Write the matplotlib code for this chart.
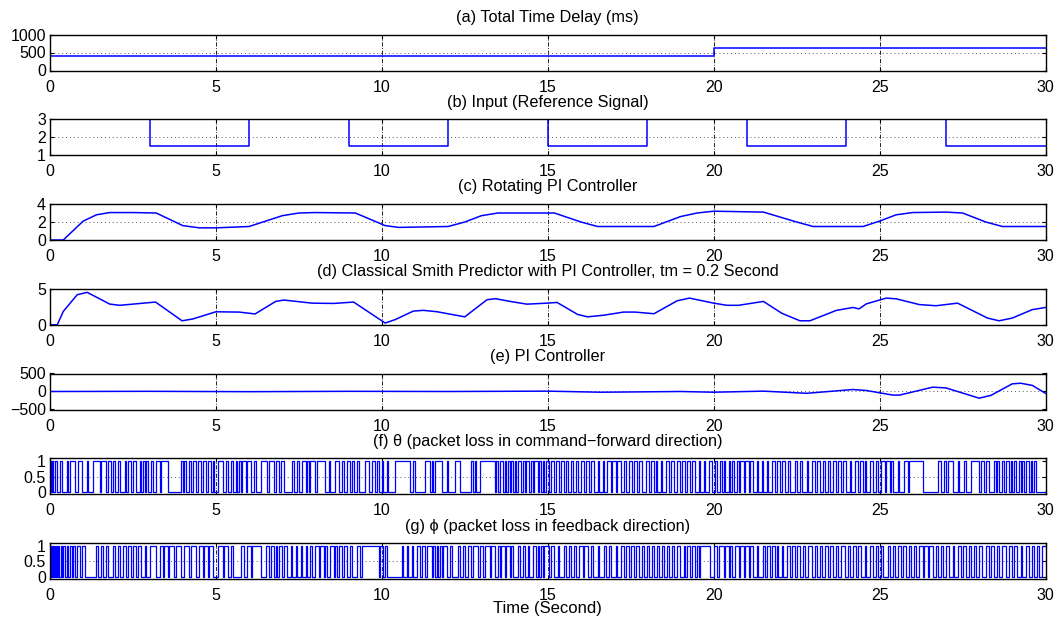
import numpy as np
import matplotlib
matplotlib.use('Agg')
import matplotlib.pyplot as plt

plt.rcParams['font.family'] = ['Liberation Sans', 'DejaVu Sans']
plt.rcParams['font.size'] = 11

# (a) total time delay (ms)
delay_t = [0, 20, 20, 30]
delay_v = [395, 395, 615, 615]

# (b) reference input
ref_t = [0, 3, 3, 6, 6, 9, 9, 12, 12, 15, 15, 18, 18, 21, 21, 24, 24, 27, 27, 30]
ref_v = [3, 3, 1.5, 1.5, 3, 3, 1.5, 1.5, 3, 3, 1.5, 1.5, 3, 3, 1.5, 1.5, 3, 3, 1.5, 1.5]

# (c) rotating PI controller
rot_t = [0, 0.4, 1.0, 1.4, 1.8, 2.5, 3.2, 4.0, 4.5, 5.0, 6.0, 6.5, 7.0, 7.5, 8.0, 9.2,
         10.1, 10.5, 12.0, 12.5, 13.0, 13.5, 15.2, 16.0, 16.5, 18.2, 19.0, 19.5, 20.0,
         21.5, 22.5, 23.0, 24.5, 25.0, 25.5, 26.0, 27.0, 27.5, 28.2, 28.7, 30.0]
rot_v = [0, 0, 2.1, 2.8, 3.05, 3.05, 3.0, 1.6, 1.35, 1.35, 1.5, 2.1, 2.7, 3.0, 3.05, 3.0,
         1.6, 1.4, 1.5, 2.0, 2.7, 3.0, 3.0, 2.0, 1.5, 1.5, 2.6, 3.0, 3.2,
         3.1, 2.0, 1.5, 1.5, 2.1, 2.8, 3.05, 3.1, 3.0, 2.0, 1.5, 1.5]

# (d) classical Smith predictor with PI
smith_t = [0, 0.22, 0.4, 0.82, 1.12, 1.8, 2.1, 3.18, 3.98, 4.3, 5.0, 5.7, 6.18, 6.8, 7.05,
           7.9, 8.55, 9.15, 10.1, 10.4, 10.95, 11.25, 11.66, 12.5, 13.17, 13.42, 13.87,
           14.37, 14.98, 15.28, 15.9, 16.2, 16.7, 17.28, 17.63, 18.2, 18.9, 19.27, 20.0,
           20.4, 20.75, 21.5, 22.05, 22.6, 22.9, 23.7, 24.2, 24.38, 24.6, 25.2, 25.5, 26.2,
           26.7, 27.35, 27.7, 28.25, 28.6, 29.0, 29.6, 30.0]
smith_v = [0, 0, 1.85, 4.17, 4.5, 2.87, 2.7, 3.15, 0.55, 0.8, 1.8, 1.76, 1.5, 3.24, 3.43,
           3.0, 2.96, 3.15, 0.24, 0.71, 1.9, 2.0, 1.81, 1.1, 3.48, 3.62, 3.24,
           2.86, 3.0, 3.1, 1.43, 1.1, 1.33, 1.76, 1.76, 1.53, 3.33, 3.7, 3.0,
           2.7, 2.7, 3.24, 1.6, 0.55, 0.55, 2.0, 2.4, 2.2, 2.9, 3.7, 3.6, 2.8,
           2.64, 3.0, 2.2, 0.93, 0.55, 0.93, 2.1, 2.4]

# (e) PI controller
pi_t = [0, 3, 6, 9, 12, 15, 16.6, 19.0, 20.0, 21.5, 22.8, 24.2, 24.6, 25.4, 25.6, 26.6,
        27.0, 28.0, 28.35, 29.0, 29.25, 29.6, 30.0]
pi_v = [0, 5, -5, 5, 0, 10, -20, 0, -20, 10, -50, 55, 28, -100, -100, 120,
        100, -185, -110, 213, 230, 170, -50]

# (f) theta, toggle times (signal starts at 1)
theta_sw = [0.03, 0.06, 0.1, 0.14, 0.2, 0.3, 0.35, 0.5, 0.55, 0.6, 0.75, 0.85, 0.95,
            1.1, 1.15, 1.3, 1.5, 1.55, 1.7, 1.75, 1.85, 1.9, 1.95,
            2.05, 2.1, 2.25, 2.3, 2.35, 2.45, 2.5, 2.6, 2.7, 2.75, 2.8, 2.85, 2.9, 2.95,
            3.05, 3.1, 3.2, 3.3, 3.35, 3.55, 3.95, 4.0,
            4.05, 4.1, 4.2, 4.25, 4.3, 4.4, 4.45, 4.55, 4.6, 4.7, 4.75, 4.85, 4.9, 4.95,
            5.05, 5.2, 5.3, 5.35, 5.45, 5.5, 5.6, 5.65, 5.7, 5.75, 5.8, 5.9, 5.95,
            6.05, 6.15, 6.2, 6.35, 6.55, 6.6, 6.75, 6.8, 6.9, 6.95,
            7.05, 7.3, 7.35, 7.45, 7.5, 7.6, 7.7, 7.75, 7.8, 7.85, 8.0,
            8.05, 8.3, 8.4, 8.45, 8.6, 8.7, 8.8, 8.85, 8.95,
            9.05, 9.1, 9.15, 9.25, 9.3, 9.5, 9.6, 9.7, 9.8, 9.85, 9.9,
            10.0, 10.05, 10.15, 10.2, 10.4, 10.85, 10.95, 11.0,
            11.3, 11.45, 11.5, 11.55, 11.6, 11.8, 11.95,
            12.0, 12.2, 12.35, 12.7, 12.75, 12.8, 12.85, 12.95,
            13.4, 13.45, 13.5, 13.55, 13.65, 13.7, 13.75, 13.8, 13.85, 13.9, 13.95,
            14.0, 14.05, 14.1, 14.2, 14.25, 14.3, 14.35, 14.45, 14.5, 14.55, 14.6, 14.7,
            14.75, 14.8, 14.85, 14.9, 14.95,
            15.05, 15.1, 15.2, 15.25, 15.35, 15.4, 15.5, 15.55, 15.6, 15.7, 15.75, 15.85, 15.9,
            16.0, 16.1, 16.15, 16.25, 16.3, 16.4, 16.5, 16.55, 16.65, 16.7, 16.8, 16.9, 16.95,
            17.05, 17.1, 17.2, 17.3, 17.35, 17.45, 17.55, 17.6, 17.7, 17.75, 17.85, 17.95,
            18.05, 18.1, 18.2, 18.25, 18.3, 18.4, 18.45, 18.55, 18.65, 18.7, 18.8, 18.9,
            19.0, 19.05, 19.15, 19.2, 19.3, 19.35, 19.45, 19.55, 19.6, 19.7, 19.75, 19.85, 19.95,
            20.05, 20.1, 20.2, 20.25, 20.3, 20.35, 20.45, 20.5, 20.55, 20.6, 20.7, 20.75,
            20.8, 20.9, 20.95,
            21.05, 21.1, 21.2, 21.3, 21.35, 21.45, 21.5, 21.6, 21.65, 21.75, 21.85, 21.9,
            22.0, 22.05, 22.15, 22.25, 22.3, 22.45, 22.5, 22.6, 22.65, 22.8, 22.85, 22.95,
            23.05, 23.1, 23.2, 23.3, 23.35, 23.45, 23.5, 23.6, 23.7, 23.75, 23.85, 23.9,
            24.0, 24.1, 24.15, 24.25, 24.35, 24.4, 24.5, 24.55, 24.6, 24.7, 24.8, 24.9, 24.95,
            25.05, 25.15, 25.2, 25.3, 25.35, 25.4, 25.55, 25.6, 25.75, 25.85, 25.9,
            26.3, 26.75, 26.85, 26.95, 27.0, 27.05, 27.2, 27.35, 27.4, 27.55, 27.6,
            27.75, 28.0, 28.05, 28.15, 28.2, 28.3, 28.45, 28.5, 28.55, 28.6, 28.7, 28.75, 28.8,
            28.9, 28.95, 29.0, 29.05, 29.1, 29.2, 29.25, 29.3, 29.35, 29.4, 29.5, 29.55,
            29.6, 29.65, 29.7]

# (g) phi, toggle times (signal starts at 1)
phi_sw = [0.02, 0.05, 0.08, 0.12, 0.15, 0.18, 0.22, 0.25, 0.28, 0.32, 0.36, 0.4, 0.45,
          0.5, 0.55, 0.6, 0.65, 0.7, 0.75, 0.8, 0.9, 0.95,
          1.05, 1.4, 1.45, 1.55, 1.6, 1.7, 1.75, 1.9, 1.95,
          2.05, 2.1, 2.2, 2.3, 2.35, 2.45, 2.5, 2.6, 2.65, 2.75, 2.85, 2.9,
          3.0, 3.2, 3.3, 3.4, 3.45, 3.55, 3.6, 3.75, 3.8, 3.95,
          4.05, 4.2, 4.25, 4.4, 4.5, 4.6, 4.65, 4.75, 4.8, 4.9,
          5.05, 5.2, 5.25, 5.35, 5.45, 5.5, 5.75, 5.85, 5.95,
          6.05, 6.1, 6.35, 6.5, 6.6, 6.65, 6.75, 6.8, 6.85, 6.9, 7.0,
          7.05, 7.15, 7.25, 7.3, 7.4, 7.45, 7.55, 7.6, 7.7, 7.75, 7.85, 7.9,
          8.0, 8.1, 8.15, 8.25, 8.3, 8.35, 8.45, 8.55, 8.6, 8.65, 8.7, 8.8, 8.85, 8.95,
          9.05, 9.1, 9.25, 9.35, 9.4, 9.9, 9.95,
          10.05, 10.1, 10.15, 10.6, 10.65, 10.75, 10.8, 10.9, 10.95,
          11.05, 11.15, 11.2, 11.3, 11.35, 11.5, 11.55, 11.6, 11.65, 11.7, 11.75, 11.8,
          11.85, 11.95,
          12.05, 12.1, 12.3, 12.35, 12.45, 12.5, 12.6, 12.7, 12.75, 12.9, 12.95,
          13.05, 13.1, 13.25, 13.3, 13.4, 13.5, 13.55, 13.6, 13.7, 13.75, 13.85, 13.9, 13.95,
          14.1, 14.15, 14.25, 14.3, 14.4, 14.45, 14.55, 14.65, 14.7, 14.75, 14.8, 14.85, 14.9,
          15.05, 15.1, 15.2, 15.3, 15.35, 15.5, 15.55, 15.65, 15.7, 15.8, 15.85, 15.95,
          16.05, 16.1, 16.2, 16.3, 16.35, 16.5, 16.55, 16.7, 16.75, 16.85, 16.9,
          17.05, 17.1, 17.2, 17.3, 17.35, 17.45, 17.5, 17.6, 17.65, 17.75, 17.85, 17.9,
          18.0, 18.05, 18.15, 18.2, 18.3, 18.35, 18.45, 18.5, 18.6, 18.65, 18.75, 18.8, 18.9,
          19.0, 19.1, 19.15, 19.2, 19.3, 19.35, 19.45, 19.5, 19.55, 19.6, 19.9, 20.0,
          20.1, 20.15, 20.3, 20.35, 20.45, 20.5, 20.55, 20.65, 20.75, 20.8, 20.9, 20.95,
          21.05, 21.1, 21.2, 21.3, 21.35, 21.5, 21.55, 21.6, 21.7, 21.75, 21.85, 21.9, 21.95,
          22.05, 22.1, 22.2, 22.3, 22.35, 22.45, 22.5, 22.6, 22.7, 22.75, 22.85, 22.95,
          23.05, 23.1, 23.2, 23.25, 23.35, 23.45, 23.5, 23.6, 23.7, 23.75, 23.85, 23.95,
          24.05, 24.1, 24.2, 24.3, 24.35, 24.45, 24.55, 24.6, 24.7, 24.8, 24.9, 24.95,
          25.05, 25.1, 25.25, 25.3, 25.4, 25.45, 25.55, 25.65, 25.7, 25.8, 25.9, 25.95,
          26.05, 26.1, 26.2, 26.3, 26.35, 26.45, 26.5, 26.6, 26.7, 26.75, 26.85, 26.9,
          27.0, 27.1, 27.2, 27.25, 27.35, 27.45, 27.5, 27.6, 27.7, 27.75, 27.85, 27.9,
          28.0, 28.1, 28.2, 28.3, 28.35, 28.45, 28.55, 28.6, 28.7, 28.8, 28.9,
          29.0, 29.05, 29.15, 29.25, 29.3, 29.4, 29.5, 29.6, 29.65, 29.75, 29.8, 29.9]

titles = ['(a) Total Time Delay (ms)',
          '(b) Input (Reference Signal)',
          '(c) Rotating PI Controller',
          '(d) Classical Smith Predictor with PI Controller, tm = 0.2 Second',
          '(e) PI Controller',
          '(f) θ (packet loss in command\u2212forward direction)',
          '(g) ϕ (packet loss in feedback direction)']
ylims = [(0, 1000), (1, 3), (0, 4), (0, 5), (-500, 500), (-0.06, 1.09), (-0.06, 1.09)]
yticks = [[0, 500, 1000], [1, 2, 3], [0, 2, 4], [0, 5], [-500, 0, 500],
          [0, 0.5, 1], [0, 0.5, 1]]
ytick_labels = [None, None, None, None, None, ['0', '0.5', '1'], ['0', '0.5', '1']]


def binary_wave(switches):
    t = [0.0]
    v = [1]
    level = 1
    for s in switches:
        t += [s, s]
        v += [level, 1 - level]
        level = 1 - level
    t.append(30.0)
    v.append(level)
    return t, v


series = [(delay_t, delay_v), (ref_t, ref_v), (rot_t, rot_v), (smith_t, smith_v),
          (pi_t, pi_v), binary_wave(theta_sw), binary_wave(phi_sw)]

W, H = 1057, 619
fig = plt.figure(figsize=(W / 100, H / 100), dpi=100)

left, right = 50, 1045.5
ax_h = 36
for i in range(7):
    top = 34.5 + 84.75 * i
    ax = fig.add_axes([left / W, 1 - (top + ax_h) / H, (right - left) / W, ax_h / H])
    t, v = series[i]
    lw = 0.9 if i >= 5 else 1.1
    ax.plot(t, v, color=(0, 0, 1), lw=lw)
    ax.set_xlim(0, 30)
    ax.set_ylim(*ylims[i])
    ax.set_xticks([0, 5, 10, 15, 20, 25, 30])
    ax.set_yticks(yticks[i])
    if ytick_labels[i] is not None:
        ax.set_yticklabels(ytick_labels[i])
    # matlab-ish grid
    for xg in [5, 10, 15, 20, 25]:
        ax.axvline(xg, color='black', lw=0.6, ls=(0, (5, 2, 1, 2)), zorder=0.5)
    for yg in yticks[i][1:-1]:
        ax.axhline(yg, color='0.35', lw=0.7, ls=(0, (1, 3)), zorder=0.5)
    ax.tick_params(direction='in', top=True, right=True, length=3, width=0.8,
                   labelsize=11.5)
    ax.tick_params(axis='x', pad=6.5)
    ax.tick_params(axis='y', pad=3)
    for sp in ax.spines.values():
        sp.set_linewidth(1.0)
    ax.set_title(titles[i], fontsize=11.7, pad=9)

fig.text((left + right) / 2 / W, 1 - 609 / H, 'Time (Second)', ha='center',
         va='center', fontsize=12)

fig.savefig('out.png', dpi=100)
